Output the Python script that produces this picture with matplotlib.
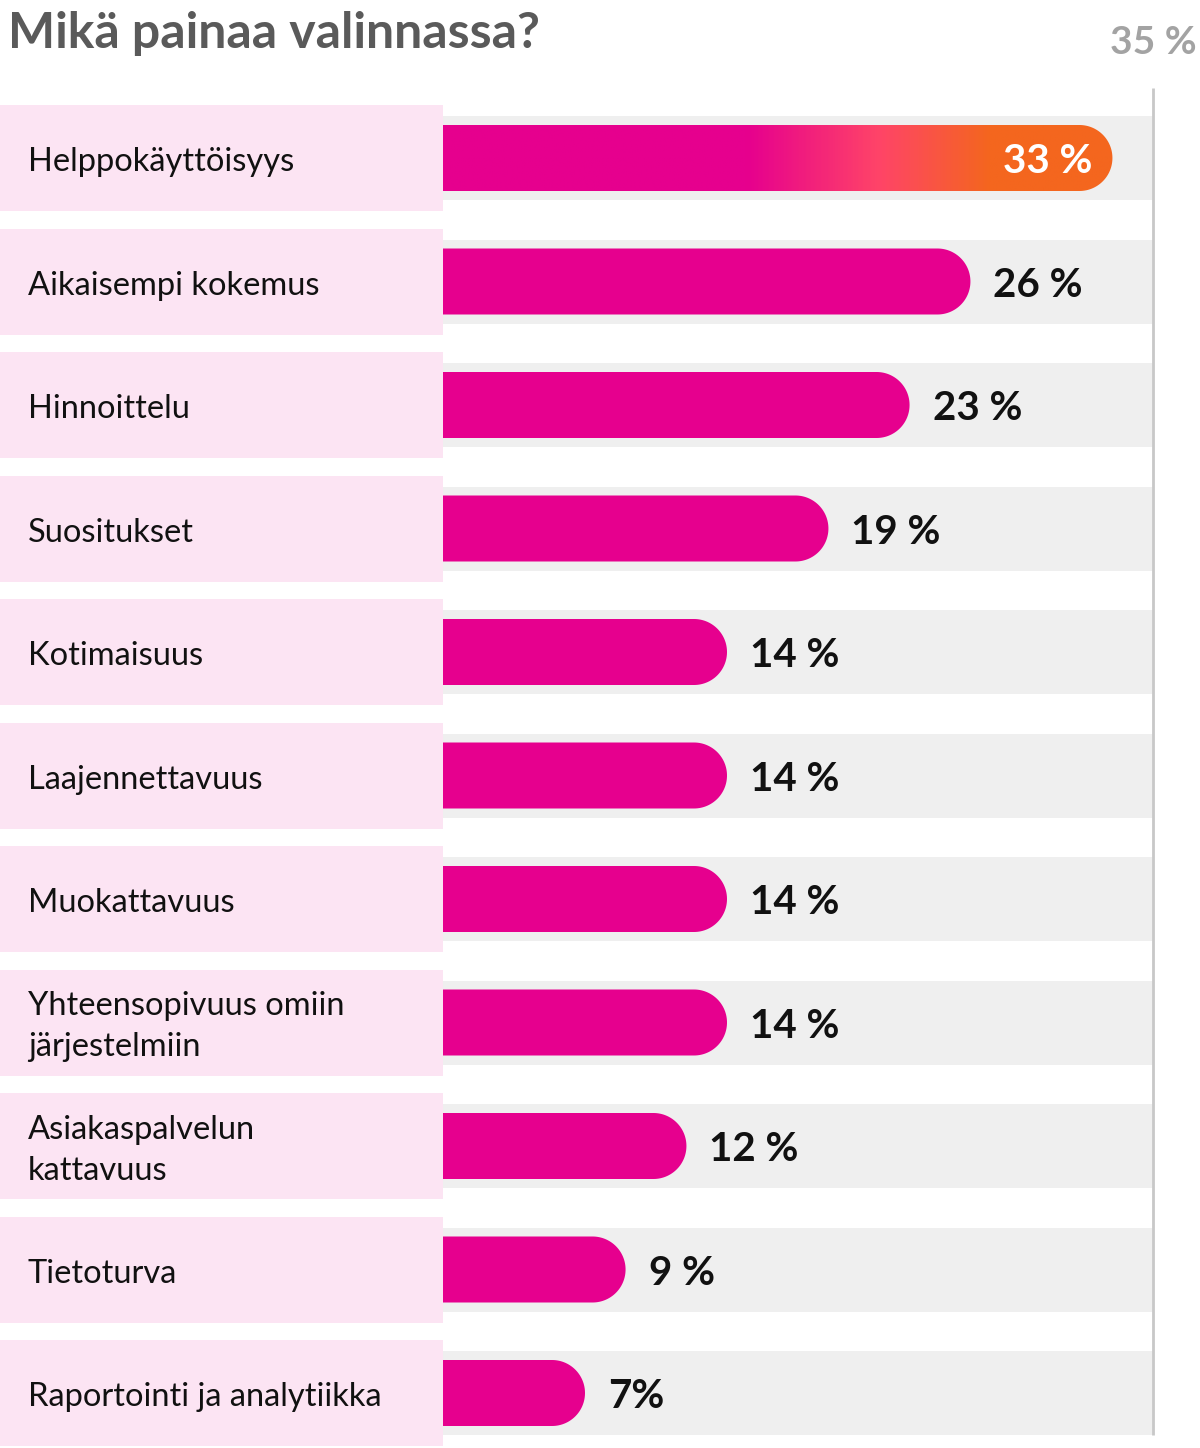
import numpy as np
import matplotlib.pyplot as plt
from matplotlib.patches import Polygon, Rectangle
from matplotlib.colors import LinearSegmentedColormap

# data
labels = ["Helppokäyttöisyys", "Aikaisempi kokemus", "Hinnoittelu", "Suositukset",
          "Kotimaisuus", "Laajennettavuus", "Muokattavuus",
          "Yhteensopivuus omiin\njärjestelmiin", "Asiakaspalvelun\nkattavuus",
          "Tietoturva", "Raportointi ja analytiikka"]
values = [33, 26, 23, 19, 14, 14, 14, 14, 12, 9, 7]
value_texts = ["33 %", "26 %", "23 %", "19 %", "14 %", "14 %", "14 %", "14 %",
               "12 %", "9 %", "7%"]
axis_max = 35
title = "Mikä painaa valinnassa?"

MAGENTA = "#E6008E"
PINK_BOX = "#FCE4F3"
BAND = "#EFEFEF"

W, H = 1200, 1448
px_x = 710 / axis_max          # pixels per percent
px_y = 123.5                   # pixels per row
x_left = -443 / px_x
x_right = axis_max + (W - 1153) / px_x
y_top = -158 / px_y
y_bot = (H - 158) / px_y

plt.rcParams['font.family'] = ['Lato', 'DejaVu Sans']

fig = plt.figure(figsize=(W / 100, H / 100), dpi=100)
ax = fig.add_axes([0, 0, 1, 1])
ax.set_xlim(x_left, x_right)
ax.set_ylim(y_bot, y_top)
ax.axis('off')

bar_h = 66 / px_y
band_h = 84 / px_y
box_h = 106 / px_y
rx = (33) / px_x


def bar_shape(v, y):
    t = np.linspace(-np.pi / 2, np.pi / 2, 60)
    arc = np.column_stack([v - rx + rx * np.cos(t), y + bar_h / 2 * np.sin(t)])
    pts = np.vstack([[0, y - bar_h / 2], arc, [0, y + bar_h / 2]])
    return pts


grad = LinearSegmentedColormap.from_list(
    "g", [(0, MAGENTA), (15.0 / 33, MAGENTA), (21.5 / 33, "#FF4468"),
          (27.0 / 33, "#F4661E"), (1, "#F4661E")])

for i, (lab, v, vt) in enumerate(zip(labels, values, value_texts)):
    y = i
    ax.add_patch(Rectangle((x_left, y - box_h / 2), -x_left, box_h,
                           facecolor=PINK_BOX, edgecolor='none', zorder=1))
    ax.add_patch(Rectangle((0, y - band_h / 2), axis_max, band_h,
                           facecolor=BAND, edgecolor='none', zorder=1))
    ax.text(x_left + 28 / px_x, y + 0.035, lab, ha='left', va='center', fontsize=23.5,
            color='#111111', linespacing=1.45, zorder=4)
    poly = Polygon(bar_shape(v, y), closed=True, zorder=2,
                   facecolor=MAGENTA if i > 0 else 'none', edgecolor='none')
    ax.add_patch(poly)
    if i == 0:
        img = np.linspace(0, 1, 400).reshape(1, -1)
        im = ax.imshow(img, cmap=grad, aspect='auto', zorder=3,
                       extent=[0, v, y + bar_h / 2, y - bar_h / 2])
        im.set_clip_path(poly)
        ax.text(v - 20 / px_x, y + 0.03, vt, ha='right', va='center',
                fontsize=29, fontweight='bold', color='white', zorder=4)
    else:
        ax.text(v + 23 / px_x, y + 0.03, vt, ha='left', va='center',
                fontsize=29, fontweight='bold', color='#111111', zorder=4)

# right reference line
ax.plot([axis_max, axis_max], [(88 - 158) / px_y, (1435 - 158) / px_y],
        color='#C8C8C8', lw=2, zorder=2, solid_capstyle='butt')

fig.text(8 / W, 1 - 33 / H, title, ha='left', va='center', fontsize=36,
         fontweight='bold', color='#5A5A5A')
fig.text(1197 / W, 1 - 42 / H, f"{axis_max} %", ha='right', va='center',
         fontsize=28, fontweight='bold', color='#A3A3A3')

fig.savefig("out.png", dpi=100)
